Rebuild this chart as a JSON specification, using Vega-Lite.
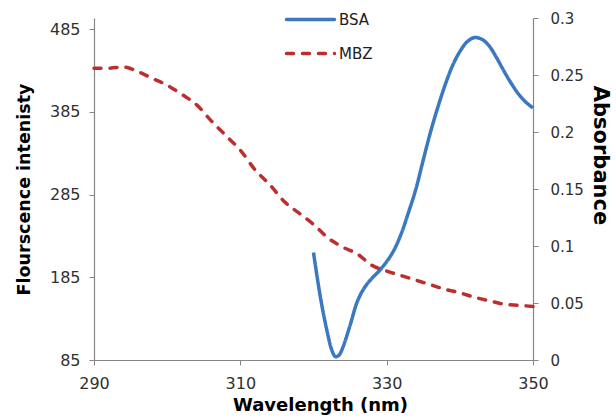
{
  "$schema": "https://vega.github.io/schema/vega-lite/v6.json",
  "autosize": "none",
  "width": 439,
  "height": 342,
  "padding": {"left": 94, "top": 18, "right": 83, "bottom": 58},
  "background": "white",
  "config": {
    "view": {"stroke": null},
    "font": "DejaVu Sans",
    "axis": {
      "grid": false,
      "domainColor": "#868686",
      "tickColor": "#868686",
      "domainWidth": 1.2,
      "tickSize": 5,
      "labelColor": "#303030",
      "labelFontSize": 16,
      "labelFlush": false,
      "labelFont": "DejaVu Sans",
      "titleFont": "DejaVu Sans",
      "titleColor": "#000000",
      "titleFontWeight": "bold"
    }
  },
  "data": {
    "values": [
      {"wl": 320, "series": "BSA", "v": 215},
      {"wl": 321, "series": "BSA", "v": 158},
      {"wl": 322, "series": "BSA", "v": 114},
      {"wl": 322.5, "series": "BSA", "v": 97},
      {"wl": 323, "series": "BSA", "v": 89},
      {"wl": 323.5, "series": "BSA", "v": 91},
      {"wl": 324, "series": "BSA", "v": 100},
      {"wl": 325, "series": "BSA", "v": 127},
      {"wl": 326, "series": "BSA", "v": 156},
      {"wl": 327, "series": "BSA", "v": 173},
      {"wl": 328, "series": "BSA", "v": 184},
      {"wl": 329, "series": "BSA", "v": 193},
      {"wl": 330, "series": "BSA", "v": 204},
      {"wl": 331, "series": "BSA", "v": 218},
      {"wl": 332, "series": "BSA", "v": 238},
      {"wl": 333, "series": "BSA", "v": 264},
      {"wl": 334, "series": "BSA", "v": 292},
      {"wl": 335, "series": "BSA", "v": 327},
      {"wl": 336, "series": "BSA", "v": 361},
      {"wl": 337, "series": "BSA", "v": 391},
      {"wl": 338, "series": "BSA", "v": 418},
      {"wl": 339, "series": "BSA", "v": 441},
      {"wl": 340, "series": "BSA", "v": 458},
      {"wl": 341, "series": "BSA", "v": 470},
      {"wl": 342, "series": "BSA", "v": 475},
      {"wl": 343, "series": "BSA", "v": 473},
      {"wl": 344, "series": "BSA", "v": 465},
      {"wl": 345, "series": "BSA", "v": 451},
      {"wl": 346, "series": "BSA", "v": 435},
      {"wl": 347, "series": "BSA", "v": 420},
      {"wl": 348, "series": "BSA", "v": 407},
      {"wl": 349, "series": "BSA", "v": 397},
      {"wl": 350, "series": "BSA", "v": 390},
      {"wl": 290, "series": "MBZ", "v": 0.256},
      {"wl": 292, "series": "MBZ", "v": 0.256},
      {"wl": 294, "series": "MBZ", "v": 0.257},
      {"wl": 296, "series": "MBZ", "v": 0.253},
      {"wl": 298, "series": "MBZ", "v": 0.247},
      {"wl": 300, "series": "MBZ", "v": 0.241},
      {"wl": 302, "series": "MBZ", "v": 0.233},
      {"wl": 304, "series": "MBZ", "v": 0.224},
      {"wl": 306, "series": "MBZ", "v": 0.210},
      {"wl": 308, "series": "MBZ", "v": 0.197},
      {"wl": 310, "series": "MBZ", "v": 0.184},
      {"wl": 312, "series": "MBZ", "v": 0.167},
      {"wl": 314, "series": "MBZ", "v": 0.154},
      {"wl": 316, "series": "MBZ", "v": 0.139},
      {"wl": 318, "series": "MBZ", "v": 0.129},
      {"wl": 320, "series": "MBZ", "v": 0.119},
      {"wl": 322, "series": "MBZ", "v": 0.107},
      {"wl": 324, "series": "MBZ", "v": 0.099},
      {"wl": 326, "series": "MBZ", "v": 0.093},
      {"wl": 328, "series": "MBZ", "v": 0.083},
      {"wl": 330, "series": "MBZ", "v": 0.078},
      {"wl": 332, "series": "MBZ", "v": 0.074},
      {"wl": 334, "series": "MBZ", "v": 0.070},
      {"wl": 336, "series": "MBZ", "v": 0.066},
      {"wl": 338, "series": "MBZ", "v": 0.062},
      {"wl": 340, "series": "MBZ", "v": 0.059},
      {"wl": 342, "series": "MBZ", "v": 0.055},
      {"wl": 344, "series": "MBZ", "v": 0.052},
      {"wl": 346, "series": "MBZ", "v": 0.049},
      {"wl": 348, "series": "MBZ", "v": 0.048},
      {"wl": 350, "series": "MBZ", "v": 0.047}
    ]
  },
  "encoding": {
    "x": {
      "field": "wl",
      "type": "quantitative",
      "scale": {"domain": [290, 350], "nice": false, "zero": false},
      "axis": {
        "values": [290, 310, 330, 350],
        "title": "Wavelength (nm)",
        "titleFontSize": 18,
        "labelPadding": 10,
        "titlePadding": 5,
        "titleX": 226
      }
    },
    "color": {
      "field": "series",
      "type": "nominal",
      "scale": {"domain": ["BSA", "MBZ"], "range": ["#3b78c2", "#bd2e2e"]},
      "legend": {
        "title": null,
        "orient": "none",
        "legendX": 205,
        "legendY": -10,
        "symbolType": "M-2.5,0H2.5",
        "symbolSize": 369,
        "symbolStrokeWidth": 3.5,
        "labelFontSize": 15,
        "labelColor": "#202020",
        "labelOffset": 17,
        "rowPadding": 14,
        "encode": {"symbols": {"update": {"strokeCap": {"value": "round"}}}}
      }
    },
    "strokeDash": {
      "field": "series",
      "type": "nominal",
      "scale": {"domain": ["BSA", "MBZ"], "range": [[1, 0], [7, 9]]},
      "legend": {
        "title": null,
        "orient": "none",
        "legendX": 205,
        "legendY": -10,
        "symbolType": "M-2.5,0H2.5",
        "symbolSize": 369,
        "symbolStrokeWidth": 3.5,
        "labelFontSize": 15,
        "labelColor": "#202020",
        "labelOffset": 17,
        "rowPadding": 14,
        "encode": {"symbols": {"update": {"strokeCap": {"value": "round"}}}}
      }
    }
  },
  "layer": [
    {
      "transform": [{"filter": "datum.series === 'BSA'"}],
      "mark": {"type": "line", "strokeWidth": 3.5, "interpolate": "catmull-rom"},
      "encoding": {
        "y": {
          "field": "v",
          "type": "quantitative",
          "scale": {"domain": [85, 498.7], "nice": false, "zero": false},
          "axis": {
            "orient": "left",
            "values": [85, 185, 285, 385, 485],
            "title": "Flourscence intenisty",
            "titleFontSize": 17.5,
            "labelPadding": 9,
            "titlePadding": 16
          }
        }
      }
    },
    {
      "transform": [{"filter": "datum.series === 'MBZ'"}],
      "mark": {"type": "line", "strokeWidth": 3.5, "strokeCap": "round", "interpolate": "monotone"},
      "encoding": {
        "y": {
          "field": "v",
          "type": "quantitative",
          "scale": {"domain": [0, 0.3], "nice": false},
          "axis": {
            "orient": "right",
            "values": [0, 0.05, 0.1, 0.15, 0.2, 0.25, 0.3],
            "format": "~f",
            "labelFontSize": 15,
            "labelPadding": 12,
            "title": "Absorbance",
            "titleFontSize": 21,
            "titlePadding": 6,
            "titleY": 137
          }
        }
      }
    }
  ],
  "resolve": {"scale": {"y": "independent"}}
}
